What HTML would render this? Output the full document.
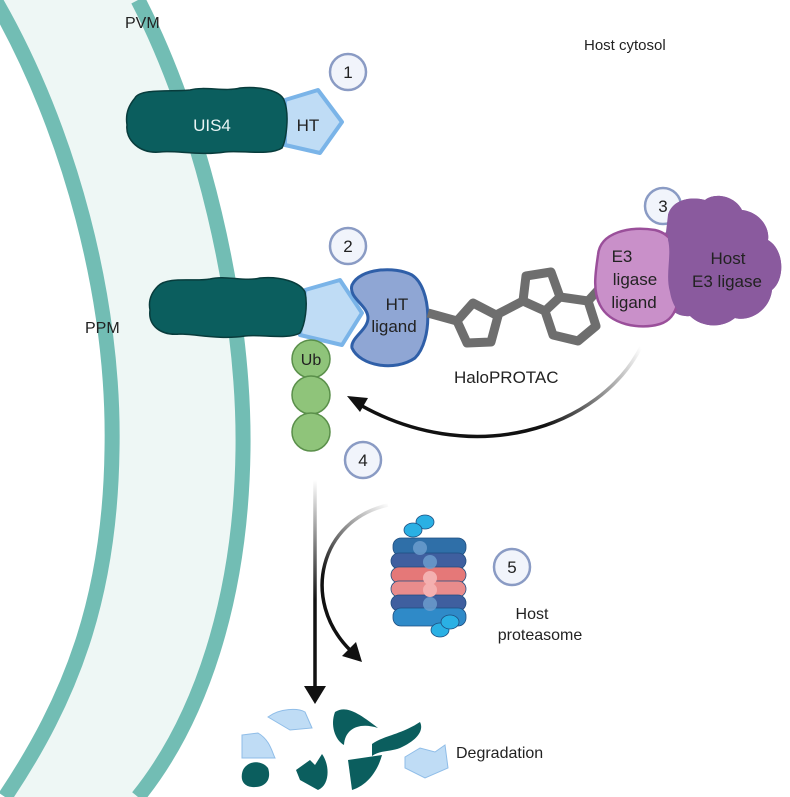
<!DOCTYPE html>
<html><head><meta charset="utf-8"><style>
html,body{margin:0;padding:0;background:#fff}
svg{display:block}
text{font-family:"Liberation Sans",sans-serif;fill:#222}
</style></head><body>
<svg width="790" height="797" viewBox="0 0 790 797" xmlns="http://www.w3.org/2000/svg">
<defs>
<linearGradient id="g1" x1="640" y1="345" x2="420" y2="430" gradientUnits="userSpaceOnUse">
<stop offset="0" stop-color="#000" stop-opacity="0"/><stop offset="0.5" stop-color="#111"/><stop offset="1" stop-color="#111"/></linearGradient>
<linearGradient id="g2" x1="0" y1="480" x2="0" y2="600" gradientUnits="userSpaceOnUse">
<stop offset="0" stop-color="#111" stop-opacity="0"/><stop offset="1" stop-color="#111"/></linearGradient>
<linearGradient id="g3" x1="390" y1="505" x2="330" y2="580" gradientUnits="userSpaceOnUse">
<stop offset="0" stop-color="#111" stop-opacity="0"/><stop offset="1" stop-color="#111"/></linearGradient>
</defs>
<path d="M-5,0 C70,130 115,300 112,450 C110,600 70,700 5,797 L138,797 C200,720 241,600 243,450 C245,300 200,120 138,0 Z" fill="#eef7f5"/>
<path d="M-5,0 C70,130 115,300 112,450 C110,600 70,700 5,797" fill="none" stroke="#72bdb4" stroke-width="15"/>
<path d="M138,0 C200,120 245,300 243,450 C241,600 200,720 138,797" fill="none" stroke="#72bdb4" stroke-width="15"/>

<text x="125" y="28" font-size="16">PVM</text>
<text x="85" y="333" font-size="16">PPM</text>
<text x="584" y="50" font-size="15">Host cytosol</text>

<g stroke="#8a9bc4" stroke-width="2.5" fill="#f1f4fb">
<circle cx="348" cy="72" r="18"/><circle cx="348" cy="246" r="18"/><circle cx="663" cy="206" r="18"/><circle cx="363" cy="460" r="18"/><circle cx="512" cy="567" r="18"/>
</g>
<g font-size="17" text-anchor="middle">
<text x="348" y="78">1</text><text x="348" y="252">2</text><text x="663" y="212">3</text><text x="363" y="466">4</text><text x="512" y="573">5</text>
</g>

<path d="M285,100 L318,90 L342,122 L320,153 L285,145 Z" fill="#bfdcf5" stroke="#7ab4e8" stroke-width="4" stroke-linejoin="round"/>
<path d="M135,98 C140,88 175,92 190,90 C205,86 225,92 240,88 C258,86 280,90 284,100 C290,115 286,140 282,148 C270,156 240,150 225,152 C200,156 175,150 160,152 C140,154 125,140 127,125 C125,112 130,104 135,98 Z" fill="#0b5e5e" stroke="#083c3c" stroke-width="1.5"/>
<text x="212" y="131" font-size="17" text-anchor="middle" style="fill:#e8f4f4">UIS4</text>
<text x="308" y="131" font-size="17" text-anchor="middle">HT</text>

<path d="M305,290 L340,280 L362,313 L342,345 L300,335 Z" fill="#bfdcf5" stroke="#7ab4e8" stroke-width="4" stroke-linejoin="round"/>
<path d="M158,286 C168,276 195,282 210,279 C225,275 245,282 260,278 C280,276 300,282 305,292 C308,305 305,325 300,333 C288,340 260,334 245,336 C220,340 195,334 180,334 C160,336 148,325 150,310 C148,300 152,292 158,286 Z" fill="#0b5e5e" stroke="#083c3c" stroke-width="1.5"/>

<path d="M352,285 C360,268 395,266 412,275 C432,288 433,340 415,358 C395,372 360,366 352,348 C350,338 368,330 368,318 C368,305 348,298 352,285 Z" fill="#8fa6d4" stroke="#2f5fa8" stroke-width="3"/>
<text x="397" y="310" font-size="17" text-anchor="middle">HT</text>
<text x="394" y="332" font-size="17" text-anchor="middle">ligand</text>

<g fill="none" stroke="#6e6e6e" stroke-width="9" stroke-linejoin="round">
<path d="M428,313 L457,321"/>
<path d="M473,303 L498,316 L491,342 L467,343 L457,321 Z"/>
<path d="M498,314 L523,301"/>
<path d="M526,276 L551,272 L560,297 L545,311 L523,301 Z"/>
<path d="M560,297 L588,301 L596,326 L578,341 L553,335 L545,311"/>
<path d="M589,300 L600,288"/>
</g>
<text x="454" y="383" font-size="17">HaloPROTAC</text>

<path d="M668,215 C672,200 690,196 705,200 C715,192 735,196 742,210 C760,212 770,228 768,240 C785,250 785,280 772,290 C770,310 750,322 735,318 C720,330 700,326 690,316 C672,318 660,300 664,285 C655,270 656,240 666,232 Z" fill="#8a5a9e"/>
<path d="M598,255 C600,232 630,226 655,230 C672,234 680,250 676,270 C682,290 680,318 660,324 C640,330 610,325 600,305 C592,290 596,270 598,255 Z" fill="#c990c9" stroke="#9a4f9a" stroke-width="2.5"/>
<path d="M668,215 C672,200 690,196 705,200 C715,192 735,196 742,210 C760,212 770,228 768,240 C785,250 785,280 772,290 C770,310 750,322 735,318 C720,330 700,326 690,316 C680,318 672,305 670,292 C665,275 672,255 668,240 Z" fill="#8a5a9e"/>
<text x="622" y="262" font-size="17" text-anchor="middle">E3</text>
<text x="635" y="285" font-size="17" text-anchor="middle">ligase</text>
<text x="634" y="308" font-size="17" text-anchor="middle">ligand</text>
<text x="728" y="264" font-size="17" text-anchor="middle">Host</text>
<text x="727" y="287" font-size="17" text-anchor="middle">E3 ligase</text>

<g fill="#8fc47a" stroke="#5a8f4a" stroke-width="1.5">
<circle cx="311" cy="359" r="19"/><circle cx="311" cy="395" r="19"/><circle cx="311" cy="432" r="19"/>
</g>
<text x="311" y="365" font-size="16" text-anchor="middle">Ub</text>

<path d="M642,345 C600,430 470,470 355,402" fill="none" stroke="url(#g1)" stroke-width="3.5"/>
<path d="M347,396 L368,398 L360,412 Z" fill="#111"/>
<path d="M315,480 L315,690" fill="none" stroke="url(#g2)" stroke-width="3.5"/>
<path d="M304,686 L326,686 L315,704 Z" fill="#111"/>
<path d="M388,505 C320,520 300,600 350,650" fill="none" stroke="url(#g3)" stroke-width="3.5"/>
<path d="M362,662 L342,656 L356,642 Z" fill="#111"/>

<g stroke="#1f4e80" stroke-width="0.8">
<ellipse cx="425" cy="522" rx="9" ry="7" fill="#2ab0e4"/><ellipse cx="413" cy="530" rx="9" ry="7" fill="#2ab0e4"/>
<rect x="393" y="538" width="73" height="18" rx="8" fill="#2f6fa8"/>
<rect x="391" y="553" width="75" height="16" rx="8" fill="#3f5f9f"/>
<rect x="391" y="567" width="75" height="16" rx="8" fill="#e57878"/>
<rect x="391" y="581" width="75" height="16" rx="8" fill="#e98c8c"/>
<rect x="391" y="595" width="75" height="16" rx="8" fill="#3f5f9f"/>
<rect x="393" y="608" width="73" height="18" rx="8" fill="#2f8ac8"/>
<ellipse cx="440" cy="630" rx="9" ry="7" fill="#2ab0e4"/><ellipse cx="450" cy="622" rx="9" ry="7" fill="#2ab0e4"/>
</g>
<g fill="#6fa0d0" opacity="0.8"><circle cx="420" cy="548" r="7"/><circle cx="430" cy="562" r="7"/><circle cx="430" cy="604" r="7"/></g>
<g fill="#f4b0b0"><circle cx="430" cy="578" r="7"/><circle cx="430" cy="590" r="7"/></g>
<text x="532" y="619" font-size="16" text-anchor="middle">Host</text>
<text x="540" y="640" font-size="16" text-anchor="middle">proteasome</text>

<g fill="#bfdcf5" stroke="#8fbde8" stroke-width="1">
<path d="M268,717 C280,708 298,708 305,712 L312,728 L290,730 Z"/>
<path d="M242,735 L258,733 C270,740 272,752 275,758 L242,758 Z"/>
<path d="M405,757 L420,748 L435,752 L445,745 L448,768 L425,778 L405,768 Z"/>
</g>
<g fill="#0b5e5e">
<path d="M335,712 C345,706 355,710 378,728 C360,722 345,728 344,745 C335,740 330,725 335,712 Z"/>
<path d="M372,744 C385,735 400,735 420,722 C424,730 418,740 400,748 C390,752 380,750 372,756 Z"/>
<path d="M243,770 C248,760 262,760 268,768 C272,780 265,788 252,787 C242,786 240,778 243,770 Z"/>
<path d="M296,770 L310,760 L315,765 L322,754 C330,765 330,785 318,790 L300,780 Z"/>
<path d="M348,760 L382,755 C378,770 368,785 352,790 Z"/>
</g>
<text x="456" y="758" font-size="16">Degradation</text>
</svg>
</body></html>
